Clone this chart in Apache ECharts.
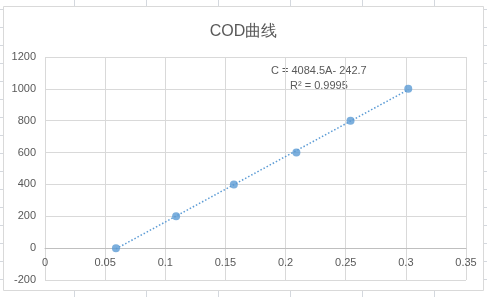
<!DOCTYPE html>
<html><head><meta charset="utf-8">
<script src="https://cdn.jsdelivr.net/npm/echarts@6/dist/echarts.min.js"></script>
<style>html,body{margin:0;padding:0;background:#fff}#c{width:487px;height:297px}</style>
</head><body><div id="c"></div>
<script>
var absorbance = [0.059, 0.109, 0.157, 0.209, 0.254, 0.302];
var codValues = [0, 200, 400, 600, 800, 1000];
var xTicks = [0, 0.05, 0.1, 0.15, 0.2, 0.25, 0.3, 0.35];
var yTicks = [-200, 0, 200, 400, 600, 800, 1000, 1200];
var titleText = 'COD曲线';
var eqText = 'C = 4084.5A- 242.7';
var r2Text = 'R² = 0.9995';

// least-squares trendline from the data
var n = absorbance.length, sx = 0, sy = 0, sxx = 0, sxy = 0;
for (var i = 0; i < n; i++) { sx += absorbance[i]; sy += codValues[i]; sxx += absorbance[i]*absorbance[i]; sxy += absorbance[i]*codValues[i]; }
var slope = (n*sxy - sx*sy) / (n*sxx - sx*sx);
var icpt = (sy - slope*sx) / n;
var xmin = Math.min.apply(null, absorbance), xmax = Math.max.apply(null, absorbance);
var trend = [[xmin, slope*xmin + icpt], [xmax, slope*xmax + icpt]];
var pts = absorbance.map(function (a, i) { return [a, codValues[i]]; });

var font = "'Liberation Sans', Arial, sans-serif";
var cellLine = {stroke: '#d4d8de', lineWidth: 1};
var graphics = [];
[74, 146, 218, 290, 362, 434].forEach(function (x) {
  graphics.push({type: 'line', shape: {x1: x + 0.5, y1: 0, x2: x + 0.5, y2: 6}, style: cellLine, silent: true});
  graphics.push({type: 'line', shape: {x1: x + 0.5, y1: 291, x2: x + 0.5, y2: 297}, style: cellLine, silent: true});
});
for (var y = 9; y < 297; y += 18) {
  graphics.push({type: 'line', shape: {x1: 0, y1: y + 0.5, x2: 3, y2: y + 0.5}, style: cellLine, silent: true});
  graphics.push({type: 'line', shape: {x1: 484, y1: y + 0.5, x2: 487, y2: y + 0.5}, style: cellLine, silent: true});
}
graphics.push({type: 'rect', shape: {x: 3.5, y: 6.5, width: 480, height: 284}, style: {fill: null, stroke: '#d9d9d9', lineWidth: 1}, silent: true});
graphics.push({type: 'text', left: 271, top: 65, style: {text: eqText, font: '11px ' + font, fill: '#595959'}});
graphics.push({type: 'text', left: 290, top: 80, style: {text: r2Text, font: '11px ' + font, fill: '#595959'}});

var chart = echarts.init(document.getElementById('c'), null, {renderer: 'canvas'});
var option = {
  animation: false,
  backgroundColor: '#fff',
  title: {text: titleText, left: 'center', top: 19, textStyle: {fontFamily: font, fontSize: 16, fontWeight: 'normal', color: '#595959'}},
  grid: {left: 45, right: 21, top: 57, bottom: 17, containLabel: false, outerBoundsMode: 'none'},
  xAxis: {
    type: 'value', min: xTicks[0], max: xTicks[xTicks.length - 1], interval: 0.05, offset: 0,
    axisLine: {show: true, onZero: false, lineStyle: {color: '#bfbfbf'}},
    axisTick: {show: false},
    axisLabel: {color: '#595959', fontFamily: font, fontSize: 11, margin: 9, showMinLabel: true, showMaxLabel: true,
      formatter: function (v) { return String(+v.toFixed(2)); }},
    splitLine: {show: true, lineStyle: {color: '#d9d9d9'}}
  },
  yAxis: {
    type: 'value', min: yTicks[0], max: yTicks[yTicks.length - 1], interval: 200,
    axisLine: {show: false}, axisTick: {show: false},
    axisLabel: {color: '#595959', fontFamily: font, fontSize: 11, margin: 9,
      formatter: function (v) { return String(v); }},
    splitLine: {show: true, lineStyle: {color: '#d9d9d9'}}
  },
  series: [
    {type: 'line', data: trend, symbol: 'none', silent: true, z: 2,
      lineStyle: {color: '#5b9bd5', width: 1.5, type: [1.5, 2]}},
    {type: 'scatter', data: pts, symbol: 'circle', symbolSize: 8, z: 3,
      itemStyle: {color: '#5b9bd5'}}
  ],
  graphic: graphics
};
chart.setOption(option);
// place the x axis on y = 0, as the original does
var zeroY = chart.convertToPixel({yAxisIndex: 0}, 0);
var bottomY = chart.convertToPixel({yAxisIndex: 0}, yTicks[0]);
chart.setOption({xAxis: {offset: -(bottomY - zeroY)}});
</script></body></html>
